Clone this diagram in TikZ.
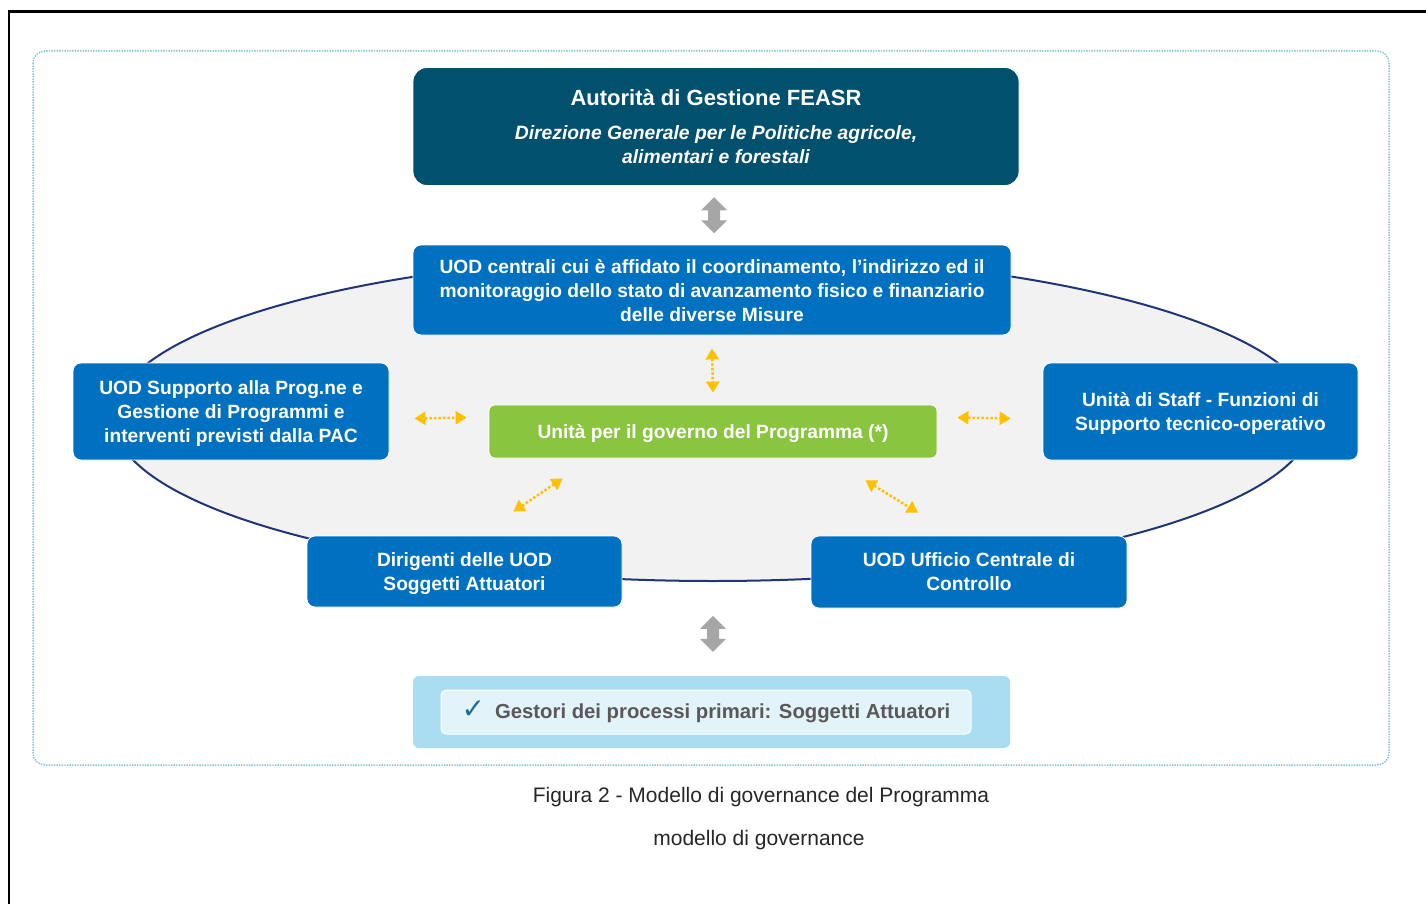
\documentclass[tikz,border=0pt]{standalone}
\usepackage{fontspec}
\setmainfont{Liberation Sans}
\newfontfamily\symbolfont{DejaVu Sans}
\usetikzlibrary{calc, arrows.meta}

\begin{document}
\begin{tikzpicture}[x=1pt, y=-1pt]
    % Define colours
    \definecolor{frameColour}{HTML}{7FC3DB}
    \definecolor{ringFill}{HTML}{F2F2F2}
    \definecolor{ringLine}{HTML}{1F3576}
    \definecolor{darkTeal}{HTML}{00506E}
    \definecolor{boxBlue}{HTML}{0070C0}
    \definecolor{govGreen}{HTML}{8AC53F}
    \definecolor{linkYellow}{HTML}{FFC000}
    \definecolor{linkGray}{HTML}{A6A6A6}
    \definecolor{baseBlue}{HTML}{ABDDF2}
    \definecolor{baseLight}{HTML}{E3F3FA}
    \definecolor{tickBlue}{HTML}{1F6F93}
    \definecolor{baseText}{HTML}{595959}

    \tikzset{
        unitbox/.style={rounded corners=8pt, fill=boxBlue, draw=white, line width=0.8pt,
            text=white, align=center, inner sep=0pt, text depth=-1.5pt,
            font=\bfseries\fontsize{19.2}{24}\selectfont},
        link/.style={draw=linkYellow, line width=2.5pt, dash pattern=on 2.5pt off 2pt,
            {Triangle[length=11pt,width=13pt,fill=linkYellow]}-{Triangle[length=11pt,width=13pt,fill=linkYellow]}},
        fatlink/.pic={
            \fill[linkGray] (0,-18) -- (13,-5) -- (6,-5) -- (6,5) -- (13,5) -- (0,18)
                -- (-13,5) -- (-6,5) -- (-6,-5) -- (-13,-5) -- cycle;
        }
    }

    \useasboundingbox (0,0) rectangle (1426,904);

    % Draw outer frame
    \draw[line width=2.5pt] (9,904) -- (9,11.5) -- (1426,11.5);
    \draw[frameColour, line width=1.5pt, dash pattern=on 1.4pt off 1.2pt, rounded corners=12pt]
        (33,51) rectangle (1389,765);

    % Draw the ring behind the units
    \draw[fill=ringFill, draw=ringLine, line width=2pt] (713,418) ellipse [x radius=600pt, y radius=163pt];

    % Units
    \node[unitbox, fill=darkTeal, rounded corners=14pt, minimum width=606pt, minimum height=118pt] (feasr) at (716,126.5)
        {{\fontsize{22}{24}\selectfont Autorità di Gestione FEASR}\\[10pt]
         \itshape\fontsize{19.3}{23}\selectfont Direzione Generale per le Politiche agricole,\\
         \itshape\fontsize{19.3}{23}\selectfont alimentari e forestali};
    \node[unitbox, minimum width=598pt, minimum height=90pt] (central) at (712,290)
        {\makebox[545pt][s]{UOD centrali cui è affidato il coordinamento, l’indirizzo ed il}\\
         \makebox[545pt][s]{monitoraggio dello stato di avanzamento fisico e finanziario}\\
         delle diverse Misure};
    \node[unitbox, minimum width=316pt, minimum height=97pt] (supp) at (231,411.5)
        {UOD Supporto alla Prog.ne e\\ Gestione di Programmi e\\ interventi previsti dalla PAC};
    \node[unitbox, minimum width=315pt, minimum height=97pt] (staff) at (1200.5,411.5)
        {Unità di Staff - Funzioni di\\ Supporto tecnico-operativo};
    \node[unitbox, fill=govGreen, rounded corners=6pt, minimum width=448pt, minimum height=53pt] (gov) at (713,431.5)
        {Unità per il governo del Programma (*)};
    \node[unitbox, minimum width=315pt, minimum height=71pt] (dirig) at (464.5,571.5)
        {Dirigenti delle UOD\\ Soggetti Attuatori};
    \node[unitbox, minimum width=316pt, minimum height=72pt] (ctrl) at (969,572)
        {UOD Ufficio Centrale di\\ Controllo};

    % Base of the model
    \node[rounded corners=6pt, fill=baseBlue, minimum width=597pt, minimum height=72pt] (gestori) at (711.5,712) {};
    \node[rounded corners=5pt, fill=baseLight, draw=white, line width=1pt, minimum width=530pt, minimum height=44pt,
        text=baseText, font=\bfseries\fontsize{20.3}{24}\selectfont] (gestoriIn) at (706,712)
        {{\symbolfont\color{tickBlue}\fontsize{28}{28}\selectfont ✓}\hspace{10pt}Gestori dei processi primari: Soggetti Attuatori};

    % Links between the units
    \coordinate (upperLink) at ($(feasr.south)!0.5!(central.north)$);
    \coordinate (lowerLink) at ($(gestori.north)+(1.5,-42)$);
    \pic at (upperLink) {fatlink};
    \pic at (lowerLink) {fatlink};
    \draw[link] ($(central.south)+(0,13)$) -- ($(gov.north)+(0,-12)$);
    \draw[link] ($(supp.east)+(25,7)$) -- ($(gov.west)+(-22,-14)$);
    \draw[link] ($(gov.east)+(20,-14)$) -- ($(staff.west)+(-32,7)$);
    \draw[link] ($(dirig.north)+(49,-24)$) -- ($(gov.south west)+(74,20)$);
    \draw[link] ($(gov.south east)+(-72,22)$) -- ($(ctrl.north)+(-51,-23)$);

    % Caption
    \node[text=black!85, font=\fontsize{21}{25}\selectfont] (caption) at (761,797) {Figura 2 - Modello di governance del Programma};
    \node[text=black!85, font=\fontsize{21}{25}\selectfont] (subcaption) at (759,840) {modello di governance};

\end{tikzpicture}
\end{document}
